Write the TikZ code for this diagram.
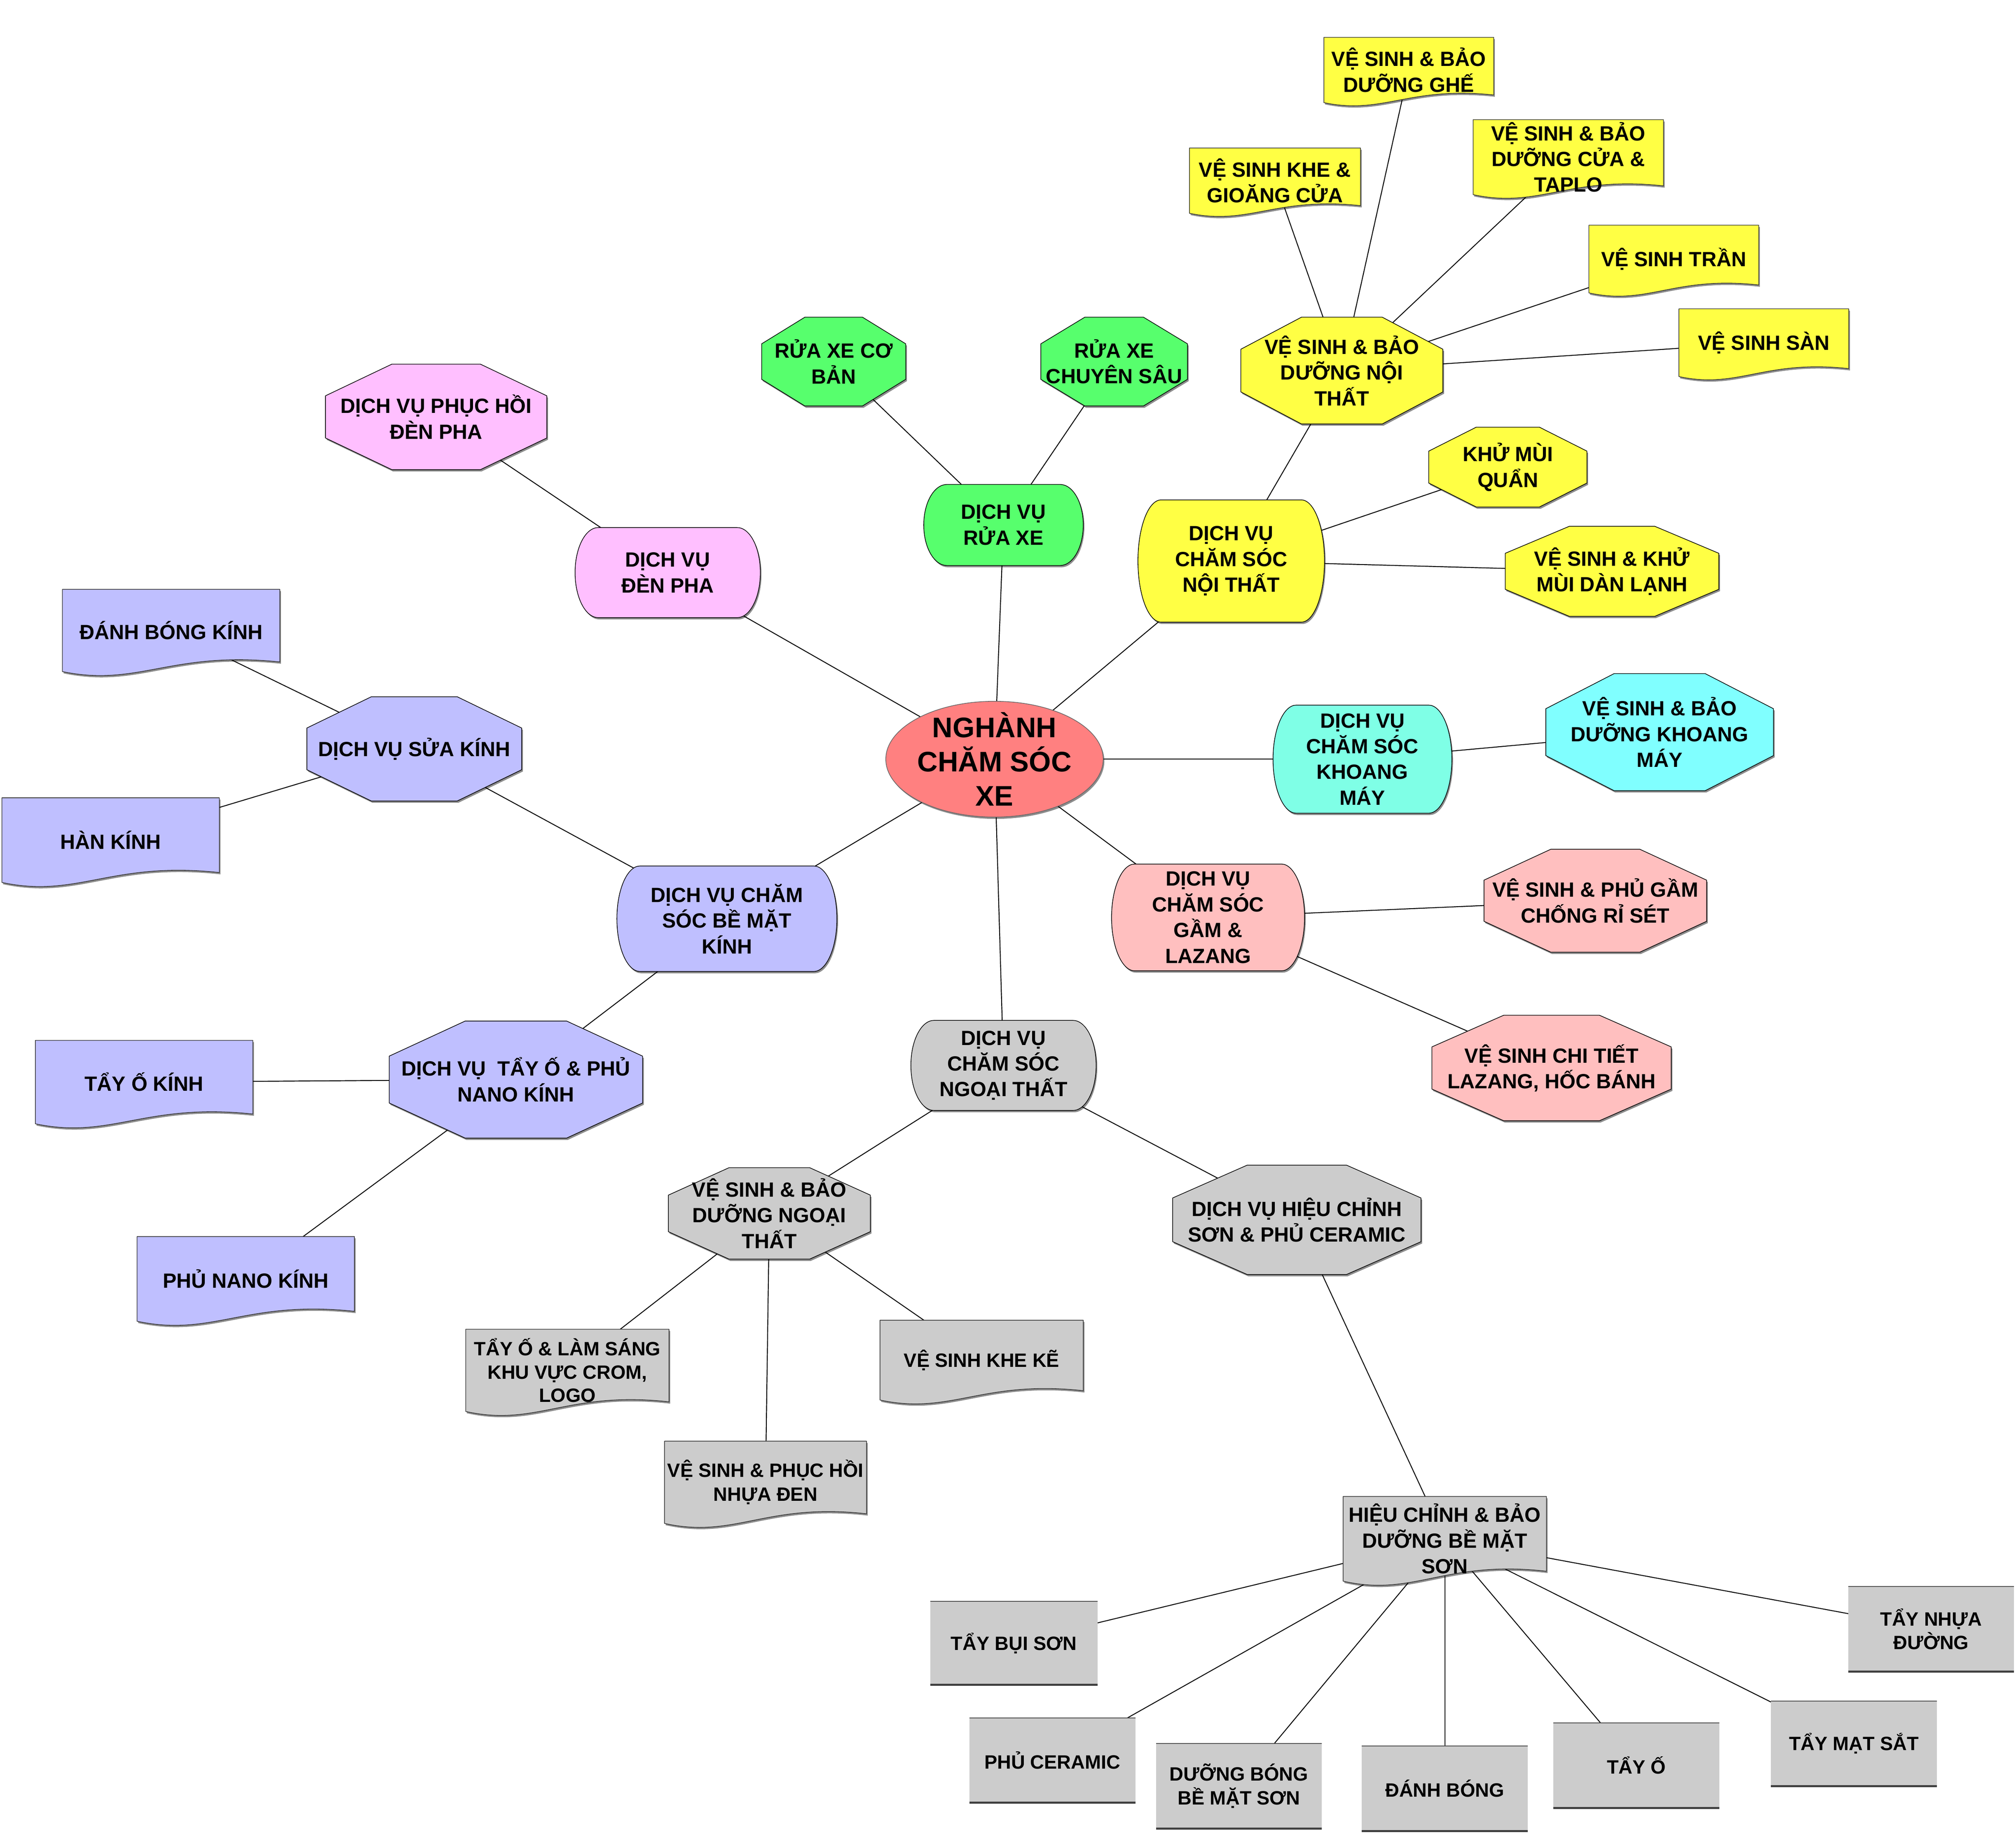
\documentclass[tikz,border=0pt]{standalone}
\usepackage{fontspec}
\setmainfont{Liberation Sans}
\usetikzlibrary{shadows}
\pgfdeclarelayer{edges}
\pgfdeclarelayer{shapes}
\pgfsetlayers{edges,shapes,main}
\definecolor{cred}{HTML}{FF8080}
\definecolor{cgreen}{HTML}{57FF6D}
\definecolor{cpink}{HTML}{FFBFFF}
\definecolor{cyellow}{HTML}{FFFF44}
\definecolor{ccyan}{HTML}{7FFFE6}
\definecolor{ccyanb}{HTML}{80FFFF}
\definecolor{cpinkb}{HTML}{FFBFBF}
\definecolor{cgray}{HTML}{CCCCCC}
\definecolor{clav}{HTML}{BFBFFF}
\tikzset{
  lbl/.style={align=center, font=\bfseries\fontsize{16}{20}\selectfont, inner sep=0pt, text=black},
  shp/.style={draw=black, line width=0.5pt, line join=round,
    drop shadow={shadow xshift=0.9pt, shadow yshift=-1.4pt, opacity=0.45, fill=black}},
  conn/.style={draw=black, line width=0.7pt},
}
% octagon: name, cx, cy, w, h, colour, text
\newcommand\octa[8][]{%
  \begin{pgfonlayer}{shapes}
  \path[shp, fill=#7] ({#3-0.2*#5},{#4-0.5*#6}) -- ({#3+0.2*#5},{#4-0.5*#6})
     -- ({#3+0.5*#5},{#4-0.2*#6}) -- ({#3+0.5*#5},{#4+0.2*#6})
     -- ({#3+0.2*#5},{#4+0.5*#6}) -- ({#3-0.2*#5},{#4+0.5*#6})
     -- ({#3-0.5*#5},{#4+0.2*#6}) -- ({#3-0.5*#5},{#4-0.2*#6}) -- cycle;
  \end{pgfonlayer}
  \node[lbl,#1] (#2) at (#3,#4) {#8};}
% barrel (rounded sides): name, cx, cy, w, h, colour, text
\newcommand\barrel[8][]{%
  \begin{pgfonlayer}{shapes}
  \path[shp, fill=#7] ({#3-0.5*#5+18},{#4-0.5*#6}) -- ({#3+0.5*#5-18},{#4-0.5*#6})
     arc[start angle=90, end angle=-90, x radius=18pt, y radius={0.5*#6pt}]
     -- ({#3-0.5*#5+18},{#4+0.5*#6})
     arc[start angle=270, end angle=90, x radius=18pt, y radius={0.5*#6pt}] -- cycle;
  \end{pgfonlayer}
  \node[lbl,#1] (#2) at (#3,#4) {#8};}
% document (wavy bottom): name, cx, cy, w, h, colour, text
\newcommand\docu[8][]{%
  \begin{pgfonlayer}{shapes}
  \path[shp, draw=black!80, fill=#7] ({#3-0.5*#5},{#4-0.5*#6}) -- ({#3+0.5*#5},{#4-0.5*#6})
     -- ({#3+0.5*#5},{#4+0.33*#6})
     .. controls ({#3},{#4+0.2*#6}) and ({#3-0.15*#5},{#4+0.62*#6}) ..
     ({#3-0.5*#5},{#4+0.44*#6}) -- cycle;
  \end{pgfonlayer}
  \node[lbl,#1] (#2) at (#3,{#4-0.03*#6}) {#8};}
% grey leaf box: name, cx, cy, w, h, text
\newcommand\leafbox[7][]{%
  \begin{pgfonlayer}{shapes}
  \fill[cgray] ({#3-0.5*#5},{#4-0.5*#6}) rectangle ({#3+0.5*#5},{#4+0.5*#6});
  \draw[line width=0.7pt, black!70] ({#3-0.5*#5},{#4-0.5*#6}) -- ({#3+0.5*#5},{#4-0.5*#6});
  \draw[line width=1.6pt, black!75] ({#3-0.5*#5},{#4+0.5*#6}) -- ({#3+0.5*#5},{#4+0.5*#6});
  \end{pgfonlayer}
  \node[lbl,#1] (#2) at (#3,#4) {#7};}
\begin{document}
\begin{tikzpicture}[x=1pt,y=-1pt]
\useasboundingbox (0,0) rectangle (1567,1426);
% central
\begin{pgfonlayer}{shapes}
\path[shp, draw=black!60, fill=cred] (773,590) ellipse[x radius=84.5pt, y radius=45pt];
\end{pgfonlayer}
\node[lbl, font=\bfseries\fontsize{22}{26.5}\selectfont] (c) at (773,590) {NGHÀNH\\CHĂM SÓC\\XE};
% green
\barrel{rua}{780}{408}{124}{63}{cgreen}{DỊCH VỤ\\RỬA XE}
\octa{rua1}{648}{281}{112}{69}{cgreen}{RỬA XE CƠ\\BẢN}
\octa{rua2}{866}{281}{114}{69}{cgreen}{RỬA XE\\CHUYÊN SÂU}
% headlight
\barrel{denpha}{519}{445}{144}{70}{cpink}{DỊCH VỤ\\ĐÈN PHA}
\octa{phuchoi}{339}{324}{172}{82}{cpink}{DỊCH VỤ PHỤC HỒI\\ĐÈN PHA}
% interior
\barrel{noithat}{957}{436}{145}{95}{cyellow}{DỊCH VỤ\\CHĂM SÓC\\NỘI THẤT}
\octa{vsnt}{1043}{288}{157}{83}{cyellow}{VỆ SINH \& BẢO\\DƯỠNG NỘI\\THẤT}
\docu{khe}{991}{142}{133}{54}{cyellow}{VỆ SINH KHE \&\\GIOĂNG CỬA}
\docu{ghe}{1095}{56}{132}{54}{cyellow}{VỆ SINH \& BẢO\\DƯỠNG GHẾ}
\docu{taplo}{1219}{124}{148}{62}{cyellow}{VỆ SINH \& BẢO\\DƯỠNG CỬA \&\\TAPLO}
\docu{tran}{1301}{203}{132}{56}{cyellow}{VỆ SINH TRẦN}
\docu{san}{1371}{268}{132}{56}{cyellow}{VỆ SINH SÀN}
\octa{khumui}{1172}{363}{123}{62}{cyellow}{KHỬ MÙI\\QUẨN}
\octa{danlanh}{1253}{444}{166}{70}{cyellow}{VỆ SINH \& KHỬ\\MÙI DÀN LẠNH}
% engine bay
\barrel{khoang}{1059}{590}{139}{84}{ccyan}{DỊCH VỤ\\CHĂM SÓC\\KHOANG\\MÁY}
\octa{vskm}{1290}{569}{177}{91}{ccyanb}{VỆ SINH \& BẢO\\DƯỠNG KHOANG\\MÁY}
% underbody
\barrel{gam}{939}{713}{150}{83}{cpinkb}{DỊCH VỤ\\CHĂM SÓC\\GẦM \&\\LAZANG}
\octa{chongri}{1240}{700}{173}{80}{cpinkb}{VỆ SINH \& PHỦ GẦM\\CHỐNG RỈ SÉT}
\octa{lazang}{1206}{830}{186}{82}{cpinkb}{VỆ SINH CHI TIẾT\\LAZANG, HỐC BÁNH}
% exterior
\barrel{ngoai}{780}{828}{144}{70}{cgray}{DỊCH VỤ\\CHĂM SÓC\\NGOẠI THẤT}
\octa{vsngoai}{598}{943}{157}{71}{cgray}{VỆ SINH \& BẢO\\DƯỠNG NGOẠI\\THẤT}
\docu[font=\bfseries\fontsize{15}{18}\selectfont]{crom}{441}{1067}{158}{68}{cgray}{TẨY Ố \& LÀM SÁNG\\KHU VỰC CROM,\\LOGO}
\docu[font=\bfseries\fontsize{15}{18.5}\selectfont]{nhuaden}{595}{1154}{157}{68}{cgray}{VỆ SINH \& PHỤC HỒI\\NHỰA ĐEN}
\docu[font=\bfseries\fontsize{15}{18.5}\selectfont]{kheke}{763}{1059}{158}{66}{cgray}{VỆ SINH KHE KẼ}
\octa{ceramic}{1008}{948}{193}{85}{cgray}{DỊCH VỤ HIỆU CHỈNH\\SƠN \& PHỦ CERAMIC}
\docu{hieuchinh}{1123}{1198}{158}{70}{cgray}{HIỆU CHỈNH \& BẢO\\DƯỠNG BỀ MẶT\\SƠN}
\leafbox[font=\bfseries\fontsize{15}{18.5}\selectfont]{taybui}{788}{1277}{130}{65}{TẨY BỤI SƠN}
\leafbox[font=\bfseries\fontsize{15}{18.5}\selectfont]{phuceramic}{818}{1368}{129}{66}{PHỦ CERAMIC}
\leafbox[font=\bfseries\fontsize{15}{18.5}\selectfont]{duongbong}{963}{1388}{129}{66}{DƯỠNG BÓNG\\BỀ MẶT SƠN}
\leafbox[font=\bfseries\fontsize{15}{18.5}\selectfont]{danhbong}{1123}{1390}{129}{66}{ĐÁNH BÓNG}
\leafbox[font=\bfseries\fontsize{15}{18.5}\selectfont]{tayo}{1272}{1372}{129}{66}{TẨY Ố}
\leafbox[font=\bfseries\fontsize{15}{18.5}\selectfont]{taymat}{1441}{1355}{129}{66}{TẨY MẠT SẮT}
\leafbox[font=\bfseries\fontsize{15}{18.5}\selectfont]{taynhua}{1501}{1266}{129}{66}{TẨY NHỰA\\ĐƯỜNG}
% glass
\barrel{kinh}{565}{714}{171}{82}{clav}{DỊCH VỤ CHĂM\\SÓC BỀ MẶT\\KÍNH}
\octa{suakinh}{322}{582}{167}{81}{clav}{DỊCH VỤ SỬA KÍNH}
\docu{danhbongkinh}{133}{492}{169}{68}{clav}{ĐÁNH BÓNG KÍNH}
\docu{hankinh}{86}{655}{169}{70}{clav}{HÀN KÍNH}
\octa{nano}{401}{839}{197}{91}{clav}{DỊCH VỤ\ \ TẨY Ố \& PHỦ\\NANO KÍNH}
\docu{tayokinh}{112}{843}{169}{69}{clav}{TẨY Ố KÍNH}
\docu{phunano}{191}{996}{169}{70}{clav}{PHỦ NANO KÍNH}
% connectors
\begin{pgfonlayer}{edges}
\foreach \a/\b in {c/rua, c/denpha, c/noithat, c/khoang, c/gam, c/ngoai, c/kinh,
  rua/rua1, rua/rua2, denpha/phuchoi,
  noithat/vsnt, noithat/khumui, noithat/danlanh,
  vsnt/khe, vsnt/ghe, vsnt/taplo, vsnt/tran, vsnt/san,
  khoang/vskm, gam/chongri, gam/lazang,
  ngoai/vsngoai, ngoai/ceramic, vsngoai/crom, vsngoai/nhuaden, vsngoai/kheke,
  ceramic/hieuchinh, hieuchinh/taybui, hieuchinh/phuceramic, hieuchinh/duongbong,
  hieuchinh/danhbong, hieuchinh/tayo, hieuchinh/taymat, hieuchinh/taynhua,
  kinh/suakinh, kinh/nano, suakinh/danhbongkinh, suakinh/hankinh,
  nano/tayokinh, nano/phunano}
  \draw[conn] (\a.center) -- (\b.center);
\end{pgfonlayer}
\end{tikzpicture}
\end{document}
